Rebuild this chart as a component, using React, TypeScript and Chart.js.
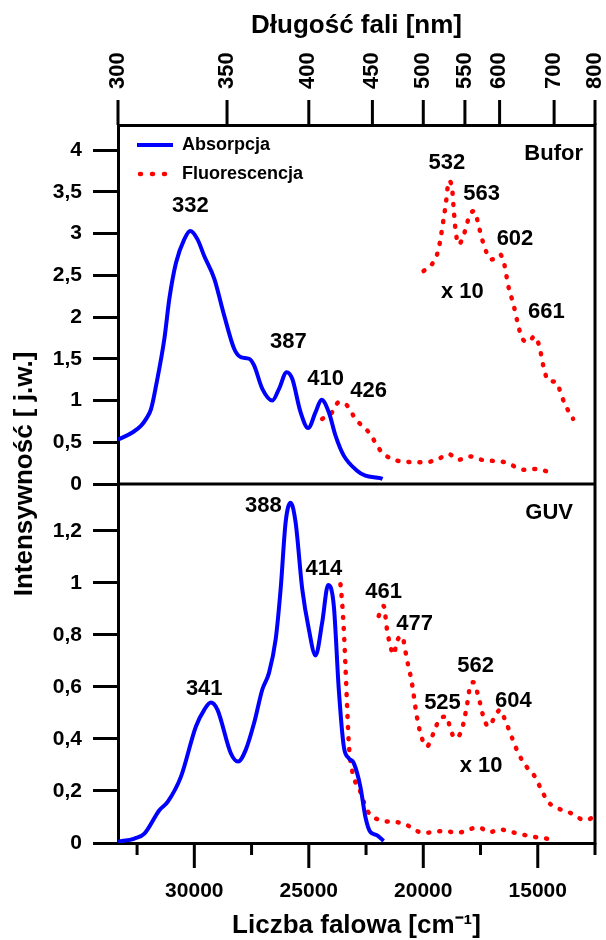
import React, { useEffect, useRef } from 'react';
import { Chart, registerables } from 'chart.js';

Chart.register(...registerables);

const FONT = "'Liberation Sans', Arial, Helvetica, sans-serif";

// ---- axes ----
const wnMin = 12500;
const wnMax = 1e7 / 300;
const topNmTicks = [300, 350, 400, 450, 500, 550, 600, 700, 800];
const bottomMajorTicks = [30000, 25000, 20000, 15000];
const bottomMinorTicks = [32500, 27500, 22500, 17500, 12500];
const topYTicks = [0, 0.5, 1, 1.5, 2, 2.5, 3, 3.5, 4];
const botYTicks = [0, 0.2, 0.4, 0.6, 0.8, 1, 1.2];
const topYMax = 4.3;
const botYMax = 1.38;

// ---- Bufor (top panel) ----
const bufAbsX = [33333, 32688, 32323, 32105, 31888, 31670, 31308, 31090, 30800, 30440, 30177, 29860, 29567, 29130, 28697, 28260, 27970, 27608, 27390, 27030, 26593, 26300, 25967, 25723, 25360, 25026, 24705, 24445, 24125, 23833, 23472, 22892, 22528, 21874, 21780];
const bufAbsY = [0.53, 0.62, 0.70, 0.78, 0.90, 1.18, 1.74, 2.22, 2.65, 2.93, 3.03, 2.93, 2.73, 2.46, 2.02, 1.62, 1.52, 1.50, 1.42, 1.14, 1.00, 1.14, 1.34, 1.26, 0.86, 0.67, 0.86, 1.01, 0.86, 0.58, 0.34, 0.16, 0.10, 0.07, 0.06];

const bufFlX = [24416, 23980, 23690, 23327, 22964, 22383, 21803, 20933, 19917, 19337, 18900, 18464, 17957, 17450, 16430, 15560, 15124, 14330];
const bufFlY = [0.78, 0.86, 0.98, 0.94, 0.78, 0.62, 0.38, 0.27, 0.26, 0.30, 0.36, 0.29, 0.33, 0.29, 0.26, 0.17, 0.18, 0.13];

const bufFl10X = [19987, 19624, 19337, 19116, 18973, 18900, 18755, 18682, 18610, 18464, 18246, 18101, 17957, 17768, 17595, 17450, 17232, 17040, 16797, 16650, 16460, 16287, 16070, 15852, 15707, 15446, 15124, 14907, 14762, 14545, 14183, 13966, 13748, 13457];
const bufFl10Y = [2.55, 2.63, 2.81, 3.17, 3.45, 3.63, 3.57, 3.33, 3.09, 2.87, 2.97, 3.11, 3.23, 3.27, 3.11, 2.95, 2.77, 2.69, 2.71, 2.75, 2.63, 2.37, 2.16, 1.90, 1.76, 1.70, 1.77, 1.62, 1.42, 1.24, 1.22, 1.06, 0.92, 0.78];

// ---- GUV (bottom panel) ----
const guvAbsX = [33333, 32615, 32180, 31527, 31164, 30583, 29930, 29567, 29277, 28987, 28407, 28089, 27754, 27390, 27030, 26738, 26447, 26230, 26012, 25795, 25577, 25287, 24997, 24705, 24416, 24155, 23907, 23690, 23472, 23254, 23036, 22746, 22528, 22310, 22023, 21732];
const guvAbsY = [0.005, 0.017, 0.036, 0.126, 0.158, 0.255, 0.448, 0.512, 0.54, 0.512, 0.345, 0.313, 0.358, 0.461, 0.59, 0.654, 0.783, 0.976, 1.233, 1.308, 1.233, 0.976, 0.821, 0.721, 0.847, 0.992, 0.911, 0.59, 0.371, 0.326, 0.307, 0.216, 0.10, 0.042, 0.03, 0.008];

const guvFlX = [23617, 23545, 23472, 23400, 23327, 23254, 23110, 22746, 22455, 21874, 20933, 19987, 19046, 18537, 17595, 17087, 16650, 16143, 15124, 14254];
const guvFlY = [0.995, 0.924, 0.82, 0.68, 0.525, 0.384, 0.28, 0.197, 0.126, 0.088, 0.077, 0.039, 0.046, 0.039, 0.06, 0.042, 0.052, 0.042, 0.023, 0.013];

const guvFl10X = [21947, 21729, 21584, 21439, 21294, 21149, 20933, 20715, 20497, 20280, 20062, 19844, 19554, 19264, 18973, 18827, 18610, 18320, 18101, 17957, 17813, 17595, 17377, 17160, 16868, 16650, 16432, 16143, 15852, 15489, 15124, 14834, 14545, 14110, 13530, 12950, 12515];
const guvFl10Y = [0.873, 0.911, 0.82, 0.757, 0.725, 0.776, 0.795, 0.705, 0.615, 0.486, 0.403, 0.371, 0.422, 0.48, 0.486, 0.441, 0.403, 0.435, 0.525, 0.602, 0.618, 0.564, 0.486, 0.448, 0.486, 0.512, 0.474, 0.409, 0.345, 0.293, 0.255, 0.203, 0.158, 0.133, 0.114, 0.088, 0.10];

// ---- peak labels ----
const bufPeakText = ['332', '387', '410', '426', '532', '563', '602', '661', 'x 10'];
const bufPeakX = [30177, 25897, 24268, 22383, 18974, 17450, 15995, 14620, 18290];
const bufPeakY = [3.33, 1.70, 1.26, 1.12, 3.85, 3.48, 2.94, 2.06, 2.30];

const guvPeakText = ['388', '414', '341', '461', '477', '525', '562', '604', 'x 10'];
const guvPeakX = [26985, 24342, 29567, 21730, 20380, 19161, 17711, 16070, 17476];
const guvPeakY = [1.297, 1.053, 0.592, 0.965, 0.844, 0.538, 0.68, 0.548, 0.296];

const seriesLabels = ['Absorpcja', 'Fluorescencja', 'Fluorescencja x 10', 'Absorpcja GUV', 'Fluorescencja GUV', 'Fluorescencja GUV x 10'];

const pts = (xs: number[], ys: number[]) => xs.map((x, i) => ({ x, y: ys[i] }));
const fmt = (v: number) => String(Math.round(v * 10) / 10).replace('.', ',');
const bold = (size: number) => ({ family: FONT, size, weight: 'bold' as const });

const RED = '#ff0000';
const BLUE = '#0000ff';

const blueStyle = {
  borderColor: BLUE,
  backgroundColor: BLUE,
  borderWidth: 4,
  pointRadius: 0,
  pointStyle: 'line',
  cubicInterpolationMode: 'monotone' as const,
  fill: false,
};
const redStyle = {
  borderColor: RED,
  backgroundColor: RED,
  borderWidth: 4.5,
  borderDash: [1, 10],
  borderCapStyle: 'round' as const,
  pointRadius: 0,
  cubicInterpolationMode: 'monotone' as const,
  fill: false,
};

// legend sample for the dotted series (Chart.js does not dash point-style legend lines)
function dottedSample(): HTMLCanvasElement {
  const c = document.createElement('canvas');
  c.width = 36;
  c.height = 8;
  const g = c.getContext('2d') as CanvasRenderingContext2D;
  g.strokeStyle = RED;
  g.lineWidth = 4.5;
  g.lineCap = 'round';
  g.setLineDash([1, 11]);
  g.beginPath();
  g.moveTo(3, 4);
  g.lineTo(30, 4);
  g.stroke();
  return c;
}

const yGrid = { drawOnChartArea: false, drawTicks: true, tickLength: 25, tickWidth: 3, tickColor: '#000' };
const xGrid = { drawOnChartArea: false, drawTicks: true, tickLength: 25, tickWidth: 3, tickColor: 'rgba(0,0,0,0)' };
const axisBorder = { display: true, width: 3, color: '#000' };

const decorPlugin = {
  id: 'decor',
  afterLayout(chart: any) {
    const lg = chart.legend;
    const ca = chart.chartArea;
    if (lg && ca) {
      lg.left = ca.left + 8;
      lg.right = ca.right;
      lg.top = ca.top;
      lg.bottom = ca.bottom;
    }
  },
  afterDraw(chart: any) {
    const { ctx, chartArea, scales } = chart;
    const x = scales.x;
    const x2 = scales.x2;
    const yT = scales.yTop;
    const yB = scales.yBot;
    ctx.save();
    ctx.fillStyle = '#000';
    ctx.font = `bold 22px ${FONT}`;
    ctx.textAlign = 'center';
    ctx.textBaseline = 'middle';
    bufPeakText.forEach((t, i) => ctx.fillText(t, x.getPixelForValue(bufPeakX[i]), yT.getPixelForValue(bufPeakY[i])));
    guvPeakText.forEach((t, i) => ctx.fillText(t, x.getPixelForValue(guvPeakX[i]), yB.getPixelForValue(guvPeakY[i])));
    ctx.textAlign = 'right';
    ctx.fillText('Bufor', chartArea.right - 12, yT.top + 29);
    ctx.fillText('GUV', chartArea.right - 22, yB.top + 29);

    // frame: right side, panel divider
    ctx.strokeStyle = '#000';
    ctx.lineWidth = 3;
    ctx.setLineDash([]);
    ctx.lineCap = 'butt';
    ctx.beginPath();
    ctx.moveTo(chartArea.right, chartArea.top - 1.5);
    ctx.lineTo(chartArea.right, chartArea.bottom + 1.5);
    ctx.moveTo(chartArea.left, yT.bottom);
    ctx.lineTo(chartArea.right, yT.bottom);
    ctx.stroke();

    // x-axis tick marks: long majors, short minors (bottom), long ticks on the top wavelength axis
    const base = x.top;
    for (const v of bottomMajorTicks) {
      const px = x.getPixelForValue(v);
      ctx.beginPath();
      ctx.moveTo(px, base);
      ctx.lineTo(px, base + 25);
      ctx.stroke();
    }
    for (const v of bottomMinorTicks) {
      const px = x.getPixelForValue(v);
      ctx.beginPath();
      ctx.moveTo(px, base);
      ctx.lineTo(px, base + 12);
      ctx.stroke();
    }
    for (const nm of topNmTicks) {
      const px = x2.getPixelForValue(1e7 / nm);
      ctx.beginPath();
      ctx.moveTo(px, x2.bottom);
      ctx.lineTo(px, x2.bottom - 25);
      ctx.stroke();
    }

    // shared y title
    ctx.translate(25, (chartArea.top + chartArea.bottom) / 2 - 10);
    ctx.rotate(-Math.PI / 2);
    ctx.textAlign = 'center';
    ctx.font = `bold 26px ${FONT}`;
    ctx.fillText('Intensywność [ j.w.]', 0, 0);
    ctx.restore();
  },
};

export default function App() {
  const ref = useRef<HTMLCanvasElement>(null);
  useEffect(() => {
    document.body.style.margin = '0';
    Chart.defaults.font.family = FONT;
    Chart.defaults.color = '#000';
    const sample = dottedSample();
    const chart = new Chart(ref.current as HTMLCanvasElement, {
      type: 'line',
      data: {
        datasets: [
          { label: seriesLabels[0], data: pts(bufAbsX, bufAbsY), xAxisID: 'x', yAxisID: 'yTop', ...blueStyle },
          { label: seriesLabels[1], data: pts(bufFlX, bufFlY), xAxisID: 'x', yAxisID: 'yTop', ...redStyle, pointStyle: sample },
          { label: seriesLabels[2], data: pts(bufFl10X, bufFl10Y), xAxisID: 'x', yAxisID: 'yTop', ...redStyle },
          { label: seriesLabels[3], data: pts(guvAbsX, guvAbsY), xAxisID: 'x', yAxisID: 'yBot', ...blueStyle },
          { label: seriesLabels[4], data: pts(guvFlX, guvFlY), xAxisID: 'x', yAxisID: 'yBot', ...redStyle },
          { label: seriesLabels[5], data: pts(guvFl10X, guvFl10Y), xAxisID: 'x', yAxisID: 'yBot', ...redStyle },
        ],
      },
      options: {
        responsive: false,
        animation: false,
        devicePixelRatio: 1,
        layout: { padding: { left: 0, right: 9, top: 0, bottom: 0 }, autoPadding: false },
        plugins: {
          tooltip: { enabled: false },
          legend: {
            position: 'chartArea',
            align: 'start',
            labels: {
              usePointStyle: true,
              pointStyleWidth: 36,
              boxHeight: 18,
              color: '#000',
              font: bold(18),
              padding: 11,
              filter: (item: any) => item.datasetIndex < 2,
            },
          },
        },
        scales: {
          x: {
            type: 'linear',
            position: 'bottom',
            min: wnMin,
            max: wnMax,
            reverse: true,
            afterBuildTicks: (s: any) => { s.ticks = bottomMajorTicks.map((v) => ({ value: v })); },
            afterFit: (s: any) => { s.height = 97; },
            grid: xGrid,
            border: axisBorder,
            ticks: { color: '#000', font: bold(21), padding: 11, autoSkip: false, maxRotation: 0, minRotation: 0, callback: (v: any) => String(v) },
            title: { display: true, text: 'Liczba falowa [cm⁻¹]', color: '#000', font: { ...bold(26), lineHeight: 1.1 }, padding: { top: 0, bottom: 0 } },
          },
          x2: {
            type: 'linear',
            position: 'top',
            min: wnMin,
            max: wnMax,
            reverse: true,
            afterBuildTicks: (s: any) => { s.ticks = topNmTicks.map((nm) => ({ value: 1e7 / nm })); },
            afterFit: (s: any) => { s.height = 125; },
            grid: xGrid,
            border: axisBorder,
            ticks: { color: '#000', font: bold(22), padding: 11, labelOffset: 26, autoSkip: false, maxRotation: 90, minRotation: 90, callback: (v: any) => String(Math.round(1e7 / v)) },
            title: { display: true, text: 'Długość fali [nm]', color: '#000', font: bold(26), padding: { top: 10, bottom: 0 } },
          },
          yBot: {
            type: 'linear',
            position: 'left',
            stack: 'panels',
            stackWeight: 1,
            weight: 0,
            min: 0,
            max: botYMax,
            afterBuildTicks: (s: any) => { s.ticks = botYTicks.map((v) => ({ value: v })); },
            afterFit: (s: any) => { s.width = 118; },
            grid: yGrid,
            border: axisBorder,
            ticks: { color: '#000', font: bold(21), padding: 11, callback: (v: any) => fmt(v) },
          },
          yTop: {
            type: 'linear',
            position: 'left',
            stack: 'panels',
            stackWeight: 1,
            weight: 1,
            min: 0,
            max: topYMax,
            afterBuildTicks: (s: any) => { s.ticks = topYTicks.map((v) => ({ value: v })); },
            afterFit: (s: any) => { s.width = 118; },
            grid: yGrid,
            border: axisBorder,
            ticks: { color: '#000', font: bold(21), padding: 11, callback: (v: any) => fmt(v) },
          },
        },
      } as any,
      plugins: [decorPlugin],
    });
    return () => chart.destroy();
  }, []);
  return (
    <div style={{ position: 'absolute', left: 0, top: 0, width: 606, height: 940 }}>
      <canvas ref={ref} width={606} height={940} style={{ display: 'block' }} />
    </div>
  );
}
